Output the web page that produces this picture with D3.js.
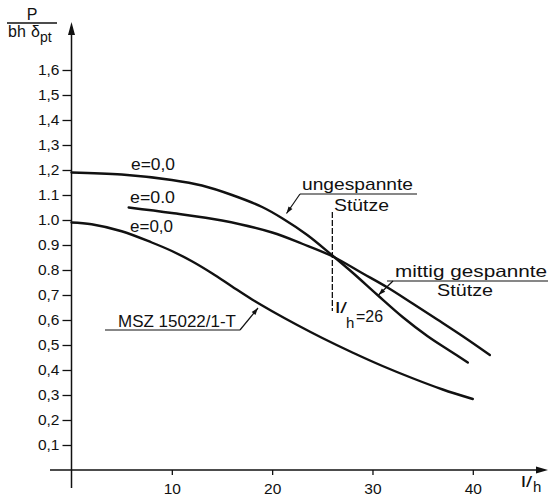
<!DOCTYPE html>
<html>
<head>
<meta charset="utf-8">
<script src="https://cdn.jsdelivr.net/npm/d3@7"></script>
<style>
  html, body { margin: 0; padding: 0; background: #fff; }
  svg { display: block; }
  text { font-family: "Liberation Sans", Arial, sans-serif; fill: #111; }
</style>
</head>
<body>
<script>
// slenderness l/h and relative load P/(bh σpt)
var ungespanntL = [0, 5, 10, 13, 16, 19, 21, 23.5, 26, 28, 30.5, 33, 35.5, 37.7, 39.5];
var ungespanntP = [1.19, 1.182, 1.16, 1.138, 1.10, 1.052, 1.007, 0.94, 0.858, 0.79, 0.70, 0.612, 0.535, 0.477, 0.43];

var mittigL = [5.7, 10, 15, 20, 23, 26, 29, 31.5, 34, 36.5, 39, 41.7];
var mittigP = [1.05, 1.028, 0.998, 0.95, 0.905, 0.855, 0.787, 0.73, 0.666, 0.601, 0.535, 0.46];

var mszL = [0, 2, 5, 8, 10, 12, 14, 16, 18, 20, 22.5, 25, 28, 31, 34, 37, 40];
var mszP = [0.99, 0.983, 0.955, 0.91, 0.876, 0.835, 0.787, 0.734, 0.682, 0.635, 0.58, 0.528, 0.47, 0.416, 0.367, 0.322, 0.284];

var xTicks = [10, 20, 30, 40];
var yTicks = [0.1, 0.2, 0.3, 0.4, 0.5, 0.6, 0.7, 0.8, 0.9, 1.0, 1.1, 1.2, 1.3, 1.4, 1.5, 1.6];
var yTickLabels = ["0,1", "0,2", "0,3", "0,4", "0,5", "0,6", "0,7", "0.8", "0.9", "1.0", "1.1", "1,2", "1,3", "1,4", "1,5", "1,6"];

var crossL = 26; // l/h = 26 marker

var width = 548, height = 498;
var ink = "#111";

var svg = d3.select("body").append("svg")
  .attr("width", width)
  .attr("height", height);

var x = d3.scaleLinear().domain([0, 40]).range([71.5, 472.8]);
var y = d3.scaleLinear().domain([0, 1.6]).range([470, 70]);

// y axis ticks + labels
var yAxis = svg.append("g")
  .attr("transform", "translate(" + x(0) + ",0)")
  .call(d3.axisLeft(y).tickValues(yTicks)
    .tickFormat(function (d, i) { return yTickLabels[i]; })
    .tickSize(9).tickPadding(3));
yAxis.select(".domain").remove();
yAxis.selectAll("line").attr("stroke", ink).attr("stroke-width", 1.3);
yAxis.selectAll("text").attr("font-family", null).attr("font-size", 15.5).attr("fill", ink);

// x axis ticks + labels
var xAxis = svg.append("g")
  .attr("transform", "translate(0," + y(0) + ")")
  .call(d3.axisBottom(x).tickValues(xTicks).tickSize(5).tickPadding(8));
xAxis.select(".domain").remove();
xAxis.selectAll("line").attr("stroke", ink).attr("stroke-width", 1.3);
xAxis.selectAll("text").attr("font-family", null).attr("font-size", 15.5).attr("fill", ink);

// axis lines with arrows
svg.append("line")
  .attr("x1", x(0)).attr("x2", x(0))
  .attr("y1", 488).attr("y2", 30)
  .attr("stroke", ink).attr("stroke-width", 1.5);
svg.append("path")
  .attr("d", "M" + x(0) + ",22 L" + (x(0) - 3.5) + ",35 L" + (x(0) + 3.5) + ",35 Z")
  .attr("fill", ink);

svg.append("line")
  .attr("x1", 50).attr("x2", 540)
  .attr("y1", y(0)).attr("y2", y(0))
  .attr("stroke", ink).attr("stroke-width", 1.5);
svg.append("path")
  .attr("d", "M548," + y(0) + " L536," + (y(0) - 3.5) + " L536," + (y(0) + 3.5) + " Z")
  .attr("fill", ink);

// curves
var line = d3.line()
  .x(function (d) { return x(d[0]); })
  .y(function (d) { return y(d[1]); })
  .curve(d3.curveCatmullRom.alpha(0.5));

function pairs(ls, ps) { return ls.map(function (l, i) { return [l, ps[i]]; }); }

[pairs(ungespanntL, ungespanntP), pairs(mittigL, mittigP), pairs(mszL, mszP)].forEach(function (s) {
  svg.append("path")
    .datum(s)
    .attr("d", line)
    .attr("fill", "none")
    .attr("stroke", ink)
    .attr("stroke-width", 2.4)
    .attr("stroke-linecap", "round");
});

// dashed marker at l/h = 26
svg.append("line")
  .attr("x1", x(crossL)).attr("x2", x(crossL))
  .attr("y1", 212).attr("y2", 311)
  .attr("stroke", ink).attr("stroke-width", 1.3)
  .attr("stroke-dasharray", "6,2");

// helpers
function label(tx, ty, str, size, len) {
  var t = svg.append("text").attr("x", tx).attr("y", ty).attr("font-size", size).text(str);
  if (len) t.attr("textLength", len).attr("lengthAdjust", "spacingAndGlyphs");
  return t;
}
function rule(x1, y1, x2, y2, w) {
  svg.append("line").attr("x1", x1).attr("y1", y1).attr("x2", x2).attr("y2", y2)
    .attr("stroke", ink).attr("stroke-width", w || 1.2);
}
function leader(x1, y1, x2, y2) {
  rule(x1, y1, x2, y2, 1.2);
  var a = Math.atan2(y2 - y1, x2 - x1), L = 7, W = 2.4;
  var bx = x2 - L * Math.cos(a), by = y2 - L * Math.sin(a);
  var px = -Math.sin(a) * W, py = Math.cos(a) * W;
  svg.append("path")
    .attr("d", "M" + x2 + "," + y2 + " L" + (bx + px) + "," + (by + py) + " L" + (bx - px) + "," + (by - py) + " Z")
    .attr("fill", ink);
}

// y axis title  P / (bh σpt)
svg.append("text").attr("x", 32).attr("y", 20).attr("font-size", 16).attr("text-anchor", "middle").text("P");
rule(7, 23, 57, 23, 1.3);
label(8, 37, "bh", 16);
label(31, 37, "δ", 16);
label(40, 42, "pt", 14);

// x axis title l/h
label(521, 487, "l/", 14, 11);
label(533, 492, "h", 15);

// e labels
label(131, 170, "e=0,0", 17, 44);
label(130, 203, "e=0.0", 17, 45);
label(130, 232, "e=0,0", 17, 43);

// ungespannte Stütze
label(302, 190, "ungespannte", 17, 111);
rule(300, 194, 417, 194);
label(334, 211, "Stütze", 17, 55);
leader(300, 194, 286.5, 213.5);

// mittig gespannte Stütze
label(395, 277, "mittig  gespannte", 16.5, 152);
rule(387, 281, 548, 281);
label(437, 296, "Stütze", 16.5, 56);
leader(393, 281, 378.5, 295);

// l/h = 26
label(335, 313, "l/", 15, 12);
label(346, 328, "h", 15);
label(356, 322, "=26", 16, 27);

// MSZ
label(118, 326.5, "MSZ 15022/1-T", 17, 118);
rule(105, 330, 240, 330);
leader(240, 330, 258, 308);
</script>
</body>
</html>
